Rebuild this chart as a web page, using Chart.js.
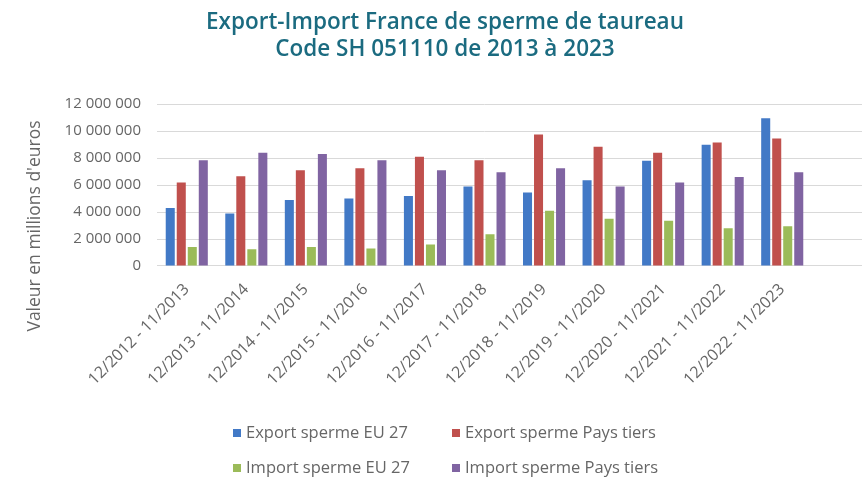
<!DOCTYPE html>
<html>
<head>
<meta charset="utf-8">
<script src="https://cdn.jsdelivr.net/npm/chart.js@4"></script>
<style>
    html, body { margin: 0; padding: 0; background: #fff; }
    #wrap { position: relative; width: 862px; height: 479px; }
    #legende { position: absolute; left: 0; top: 0; width: 862px; height: 479px; pointer-events: none; }
    .item { position: absolute; font: 16.5px "Open Sans", sans-serif; color: #666; white-space: nowrap; line-height: 20px; }
    .item span.box { display: inline-block; width: 8px; height: 8px; margin-right: 5px; vertical-align: 1px; }
</style>
</head>
<body>
<div id="wrap">
    <canvas id="exportImportChart" width="862" height="479"></canvas>
    <div id="legende"></div>
</div>
<script>
// Périodes (décembre - novembre)
const periodes = [
    '12/2012 - 11/2013', '12/2013 - 11/2014', '12/2014 - 11/2015', '12/2015 - 11/2016',
    '12/2016 - 11/2017', '12/2017 - 11/2018', '12/2018 - 11/2019', '12/2019 - 11/2020',
    '12/2020 - 11/2021', '12/2021 - 11/2022', '12/2022 - 11/2023'
];

// Valeurs en euros
const exportUE27 = [4300000, 3900000, 4900000, 5000000, 5200000, 5900000, 5450000, 6350000, 7800000, 9000000, 10950000];
const exportPaysTiers = [6200000, 6650000, 7100000, 7250000, 8100000, 7850000, 9750000, 8850000, 8400000, 9150000, 9450000];
const importUE27 = [1400000, 1250000, 1400000, 1300000, 1600000, 2350000, 4100000, 3500000, 3350000, 2800000, 2950000];
const importPaysTiers = [7850000, 8400000, 8300000, 7850000, 7100000, 6950000, 7250000, 5900000, 6200000, 6600000, 6950000];

const nomsSeries = ['Export sperme EU 27', 'Export sperme Pays tiers', 'Import sperme EU 27', 'Import sperme Pays tiers'];
const couleurs = ['#4279C6', '#C0504D', '#9BBB59', '#8064A2'];

const GRIS = '#666666';
const GRILLE = '#d9d9d9';

function formatMilliers(v) {
    return String(v).replace(/\B(?=(\d{3})+(?!\d))/g, ' ');
}

// Lignes de grille prolongées jusqu'au bord droit, titre décalé, titre de l'axe Y
const extrasPlugin = {
    id: 'extras',
    afterLayout(chart) {
        // le titre est centré sur x = 445 dans l'original
        if (chart.titleBlock) {
            chart.titleBlock.left += 39;
            chart.titleBlock.right += 39;
        }
    },
    beforeDatasetsDraw(chart) {
        const ctx = chart.ctx;
        const y = chart.scales.y;
        ctx.save();
        ctx.strokeStyle = GRILLE;
        ctx.lineWidth = 1;
        y.ticks.forEach(t => {
            const py = Math.round(y.getPixelForValue(t.value) - 0.5) + 0.5;
            ctx.beginPath();
            ctx.moveTo(chart.chartArea.right - 1, py);
            ctx.lineTo(chart.width, py);
            ctx.stroke();
        });
        ctx.restore();
    },
    afterDraw(chart) {
        const ctx = chart.ctx;
        ctx.save();
        ctx.translate(35, 226);
        ctx.rotate(-Math.PI / 2);
        ctx.font = '17.5px "Open Sans", sans-serif';
        ctx.fillStyle = GRIS;
        ctx.textAlign = 'center';
        ctx.textBaseline = 'middle';
        ctx.fillText("Valeur en millions d'euros", 0, 0);
        ctx.restore();
    }
};

const ctx = document.getElementById('exportImportChart').getContext('2d');
const chart = new Chart(ctx, {
    type: 'bar',
    data: {
        labels: periodes,
        datasets: [
            { label: nomsSeries[0], data: exportUE27, backgroundColor: couleurs[0] },
            { label: nomsSeries[1], data: exportPaysTiers, backgroundColor: couleurs[1] },
            { label: nomsSeries[2], data: importUE27, backgroundColor: couleurs[2] },
            { label: nomsSeries[3], data: importPaysTiers, backgroundColor: couleurs[3] }
        ]
    },
    options: {
        responsive: false,
        animation: false,
        datasets: {
            bar: { categoryPercentage: 0.74, barPercentage: 0.82 }
        },
        layout: {
            padding: { left: 0, right: 50, top: 0, bottom: 84 }
        },
        scales: {
            x: {
                grid: { display: false },
                border: { display: true, color: GRILLE },
                ticks: {
                    minRotation: 45,
                    maxRotation: 45,
                    padding: 6,
                    color: GRIS,
                    font: { family: '"Open Sans", sans-serif', size: 16 }
                }
            },
            y: {
                min: 0,
                max: 12000000,
                afterFit: scale => { scale.width = 157; },
                border: { display: false },
                grid: { color: GRILLE, drawTicks: false },
                ticks: {
                    stepSize: 2000000,
                    padding: 16,
                    color: GRIS,
                    font: { family: '"Open Sans", sans-serif', size: 15 },
                    callback: v => formatMilliers(v)
                }
            }
        },
        plugins: {
            legend: { display: false },
            tooltip: { enabled: false },
            title: {
                display: true,
                text: ['Export-Import France de sperme de taureau', 'Code SH 051110 de 2013 à 2023'],
                color: '#1B6B80',
                font: { family: '"Open Sans", sans-serif', size: 22.5, weight: 600, lineHeight: 1.16 },
                padding: { top: 10, bottom: 42 }
            }
        }
    },
    plugins: [extrasPlugin]
});

// Légende HTML sur deux lignes, construite à partir des séries
const positions = [[233, 422], [452, 422], [233, 457], [452, 457]];
const legende = document.getElementById('legende');
chart.data.datasets.forEach((ds, i) => {
    const el = document.createElement('div');
    el.className = 'item';
    el.style.left = positions[i][0] + 'px';
    el.style.top = positions[i][1] + 'px';
    el.innerHTML = '<span class="box" style="background:' + ds.backgroundColor + '"></span>' + ds.label;
    legende.appendChild(el);
});
</script>
</body>
</html>
